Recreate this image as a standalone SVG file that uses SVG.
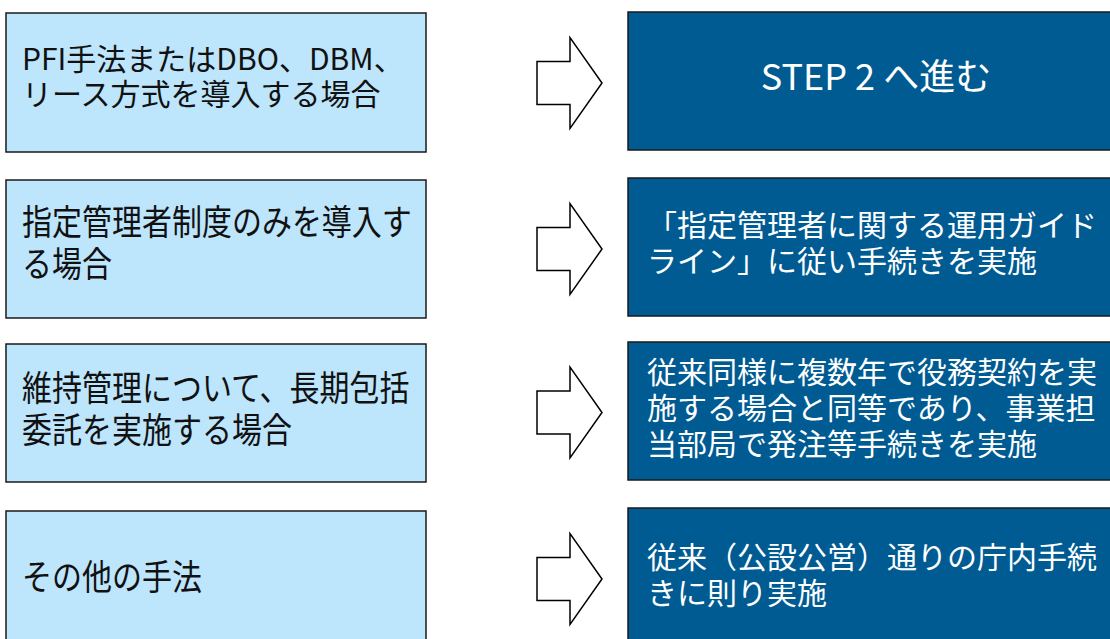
<svg xmlns="http://www.w3.org/2000/svg" xmlns:xlink="http://www.w3.org/1999/xlink" width="1110" height="639" viewBox="0 0 1110 639">
<style>
  .cond { fill: #BDE5FC; stroke: #1a1a1a; stroke-width: 1.5; }
  .act { fill: #005B92; stroke: #1a1a1a; stroke-width: 1.5; }
  .arrow { fill: #ffffff; stroke: #000000; stroke-width: 1.5; stroke-linejoin: miter; }
  .tl { font-family: "Noto Sans CJK JP", "Noto Sans", sans-serif; font-size: 30px; fill: #111111; }
  .tr { font-family: "Noto Sans CJK JP", "Noto Sans", sans-serif; font-size: 30px; fill: #ffffff; }
  .big { font-size: 36px; }
</style>
<defs>
  <path id="arrow" d="M537,-21.5 H570 V-45.5 L602,0 L570,45.5 V21.5 H537 Z"/>
</defs>
<rect width="1110" height="639" fill="#ffffff"/>

<g id="cond1">
  <rect class="cond" x="6" y="13" width="420" height="139"/>
  <text class="tl" x="22" y="70">PFI手法またはDBO、DBM、<tspan x="22" y="105">リース方式を導入する場合</tspan></text>
</g>
<g id="cond2">
  <rect class="cond" x="6" y="180" width="420" height="138"/>
  <text class="tl" transform="translate(22,235) scale(1,1.18)" x="0" y="0">指定管理者制度のみを導入す<tspan x="0" y="35.6">る場合</tspan></text>
</g>
<g id="cond3">
  <rect class="cond" x="6" y="344" width="420" height="138"/>
  <text class="tl" transform="translate(22,401) scale(1,1.18)" x="0" y="0">維持管理について、長期包括<tspan x="0" y="35.6">委託を実施する場合</tspan></text>
</g>
<g id="cond4">
  <rect class="cond" x="6" y="511" width="420" height="140"/>
  <text class="tl" transform="translate(22,590) scale(1,1.18)" x="0" y="0">その他の手法</text>
</g>

<g id="connectors">
  <use xlink:href="#arrow" href="#arrow" class="arrow" y="83"/>
  <use xlink:href="#arrow" href="#arrow" class="arrow" y="249"/>
  <use xlink:href="#arrow" href="#arrow" class="arrow" y="412.5"/>
  <use xlink:href="#arrow" href="#arrow" class="arrow" y="579"/>
</g>

<g id="act1">
  <rect class="act" x="628" y="12" width="496" height="138"/>
  <text class="tr big" x="876" y="90" text-anchor="middle">STEP 2 へ進む</text>
</g>
<g id="act2">
  <rect class="act" x="628" y="178" width="496" height="138"/>
  <text class="tr" x="647" y="236">「指定管理者に関する運用ガイド<tspan x="647" y="272">ライン」に従い手続きを実施</tspan></text>
</g>
<g id="act3">
  <rect class="act" x="628" y="342" width="496" height="138"/>
  <text class="tr" x="647" y="383">従来同様に複数年で役務契約を実<tspan x="647" y="419">施する場合と同等であり、事業担</tspan><tspan x="647" y="455">当部局で発注等手続きを実施</tspan></text>
</g>
<g id="act4">
  <rect class="act" x="628" y="508" width="496" height="145"/>
  <text class="tr" x="647" y="568">従来（公設公営）通りの庁内手続<tspan x="647" y="604">きに則り実施</tspan></text>
</g>
</svg>
